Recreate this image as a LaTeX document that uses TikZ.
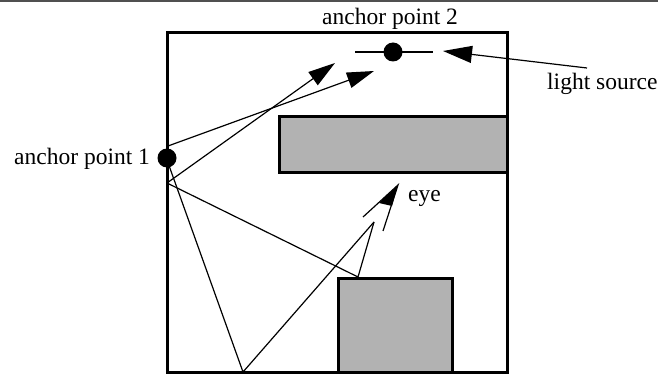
\documentclass[tikz,border=0pt]{standalone}
\usepackage{fontspec}
\setmainfont{Liberation Serif}
\usetikzlibrary{arrows.meta}
\definecolor{boxgray}{RGB}{178,178,178}
\definecolor{rulegray}{RGB}{80,80,80}
\begin{document}
\begin{tikzpicture}[x=1pt,y=-1pt,
  lbl/.style={inner sep=0pt,anchor=base west,font=\fontsize{23.5}{28}\selectfont},
  wall/.style={line width=3pt},
  obstacle/.style={line width=3pt,fill=boxgray},
  ray/.style={line width=1.2pt},
  rayarrow/.style={line width=1.2pt,-{Triangle[length=27pt,width=16pt]}},
  dot/.style={circle,fill=black,minimum size=19pt,inner sep=0pt}]
\useasboundingbox (0,0) rectangle (658,374);
% top rule
\draw[rulegray,line width=2.5pt] (0,1.25) -- (658,1.25);
% room
\draw[wall] (167,33) rectangle (507,372);
\draw[obstacle] (279,117) rectangle (507,173);
\draw[obstacle] (338,278) rectangle (452,372);
% anchor point 2 (light)
\coordinate (L1) at (355,52);
\coordinate (L2) at (433,52);
\draw[line width=2pt] (L1) -- (L2);
\node[dot] (a2) at (393,52) {};
% anchor point 1
\node[dot] (a1) at (167,158) {};
% ray points
\coordinate (p1) at (168,146);
\coordinate (p2) at (167,183);
\coordinate (p3) at (167,160);
\coordinate (t1) at (335,63);
\coordinate (t2) at (374,71);
\coordinate (f1) at (243,372);
\coordinate (f2) at (358,277);
\coordinate (e) at (374,222);
\draw[rayarrow] (p2) -- (t1);
\draw[rayarrow] (p1) -- (t2);
\draw[ray] (p3) -- (f1) -- (e);
\draw[ray] (p2) -- (f2) -- (e);
% eye
\coordinate (et) at (398,185);
\coordinate (el) at (363,217);
\coordinate (er) at (383,231);
\draw[line width=1.2pt] (el) -- (et) -- (er);
\fill (et) -- (379,203) -- (392,206) -- cycle;
% light source arrow
\coordinate (ls) at (587,68);
\coordinate (lt) at (443,51);
\draw[line width=1.2pt,-{Triangle[length=29pt,width=17pt]}] (ls) -- (lt);
% labels
\node[lbl] (t-a1) at (14,165) {anchor point 1};
\node[lbl] (t-a2) at (322,25) {anchor point 2};
\node[lbl] (t-ls) at (547,90) {light source};
\node[lbl] (t-eye) at (408,201) {eye};
\end{tikzpicture}
\end{document}
